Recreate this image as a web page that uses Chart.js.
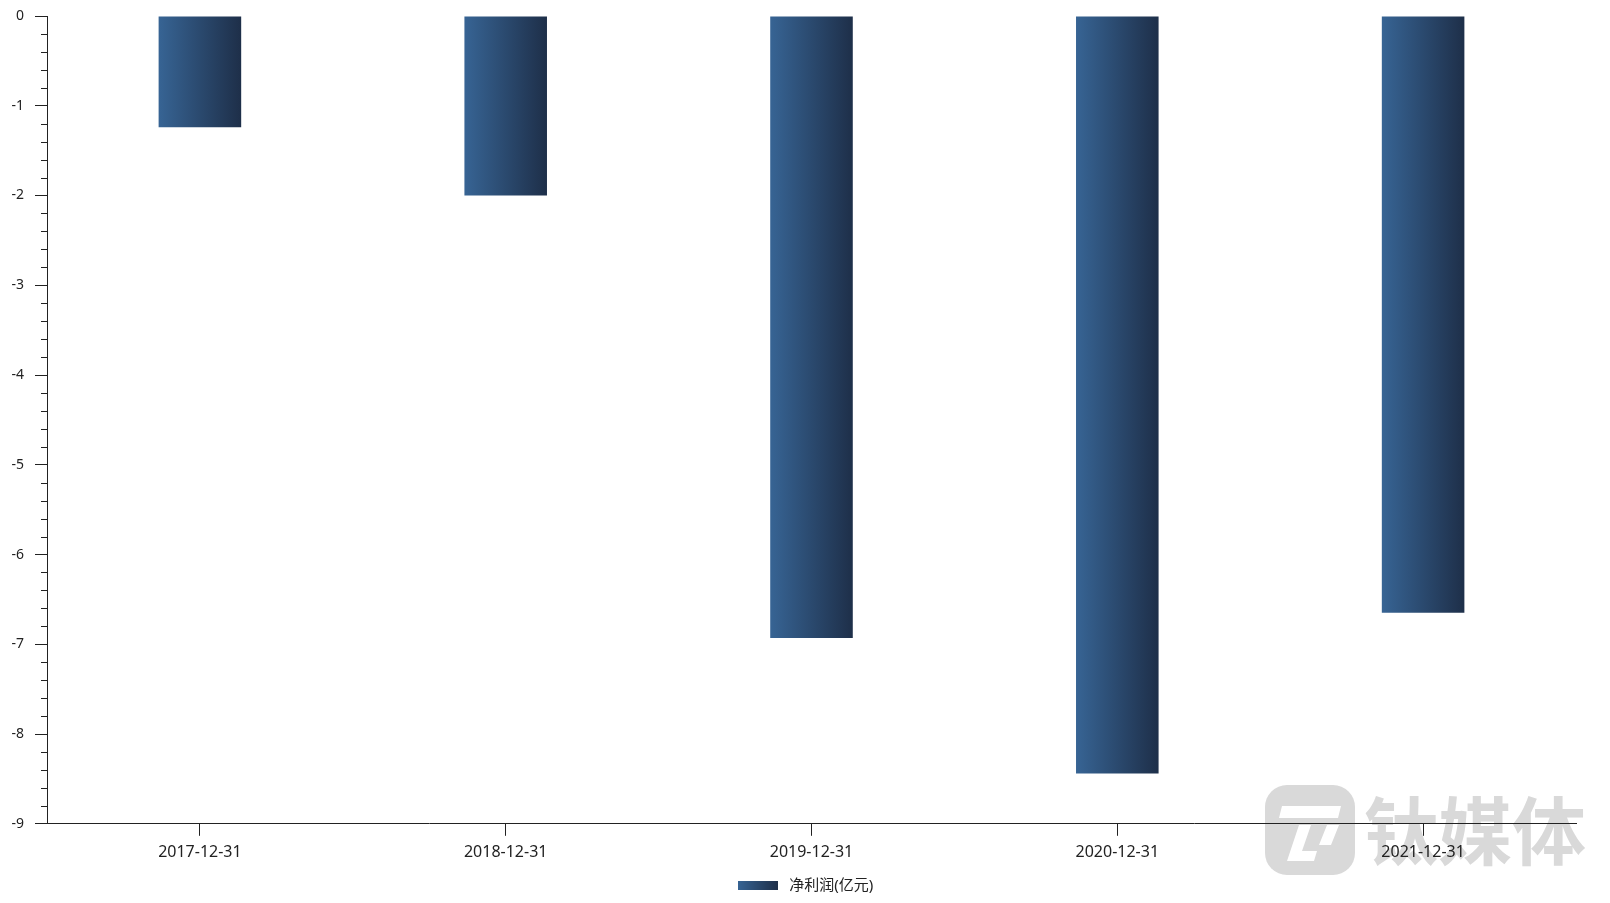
<!DOCTYPE html>
<html>
<head>
<meta charset="utf-8">
<script src="https://cdn.jsdelivr.net/npm/chart.js@4"></script>
<style>
  html,body{margin:0;padding:0;background:#fff;}
  #wrap{width:1610px;height:903px;}
</style>
</head>
<body>
<div id="wrap"><canvas id="ch"></canvas></div>
<script>
// data
var categories = ['2017-12-31', '2018-12-31', '2019-12-31', '2020-12-31', '2021-12-31'];
var netProfit = [-1.24, -2.0, -6.93, -8.44, -6.65];
var seriesLabel = '净利润(亿元)';
var yMin = -9, yMax = 0, yStep = 1, yMinorStep = 0.2;

var C_LEFT = '#376494', C_RIGHT = '#1e2f49';
var AXIS = '#222';
var FONT = '"Microsoft YaHei", "Noto Sans", "Noto Sans CJK SC", sans-serif';
var BAR_PCT = 0.27;

function barFill(c){
  var chart = c.chart, xs = chart.scales.x;
  if(!xs || !chart.chartArea) return C_LEFT;
  var cx = xs.getPixelForValue(c.dataIndex);
  var w = (chart.chartArea.width / categories.length) * BAR_PCT;
  var g = chart.ctx.createLinearGradient(cx - w/2, 0, cx + w/2, 0);
  g.addColorStop(0, C_LEFT); g.addColorStop(1, C_RIGHT);
  return g;
}

// legend swatch as an image
var swatch = document.createElement('canvas');
swatch.width = 40; swatch.height = 9;
(function(){
  var x = swatch.getContext('2d');
  var g = x.createLinearGradient(0,0,40,0);
  g.addColorStop(0, C_LEFT); g.addColorStop(1, C_RIGHT);
  x.fillStyle = g; x.fillRect(0,0,40,9);
})();

// minor ticks on the y axis
var minorTicks = {
  id:'minorTicks',
  afterDraw:function(chart){
    var y = chart.scales.y, ctx = chart.ctx, x0 = y.right;
    ctx.save(); ctx.strokeStyle = AXIS; ctx.lineWidth = 1;
    for(var v = yMax; v >= yMin - 1e-9; v -= yMinorStep){
      if(Math.abs(v - Math.round(v)) < 1e-6) continue;
      var py = Math.round(y.getPixelForValue(v)) + 0.5;
      ctx.beginPath(); ctx.moveTo(x0 - 6, py); ctx.lineTo(x0, py); ctx.stroke();
    }
    ctx.restore();
  }
};

// legend sits centred on the page, not on the padded box
var legendNudge = {
  id:'legendNudge',
  afterLayout:function(chart){
    if(chart.legend){ chart.legend.left += 10; chart.legend.right += 10; }
  }
};

// faint site watermark, behind everything
var watermark = {
  id:'watermark',
  beforeDraw:function(chart){
    var ctx = chart.ctx;
    ctx.save();
    ctx.fillStyle = '#d9d9d9';
    var x = 1265, y = 785, s = 90, r = 22;
    ctx.beginPath();
    ctx.roundRect(x, y, s, s, r);
    ctx.fill();
    ctx.fillStyle = '#fff';
    ctx.beginPath(); // top bar
    ctx.moveTo(x+17, y+21); ctx.lineTo(x+76, y+21); ctx.lineTo(x+73, y+33); ctx.lineTo(x+14, y+33); ctx.closePath(); ctx.fill();
    ctx.beginPath(); // stem
    ctx.moveTo(x+34, y+40); ctx.lineTo(x+46, y+40); ctx.lineTo(x+37, y+66); ctx.lineTo(x+52, y+66); ctx.lineTo(x+49, y+76); ctx.lineTo(x+22, y+76); ctx.closePath(); ctx.fill();
    ctx.beginPath(); // right hook
    ctx.moveTo(x+62, y+40); ctx.lineTo(x+74, y+40); ctx.lineTo(x+66, y+60); ctx.lineTo(x+54, y+60); ctx.closePath(); ctx.fill();
    ctx.fillStyle = '#d9d9d9';
    ctx.font = 'bold 74px "Noto Sans CJK SC", sans-serif';
    ctx.textBaseline = 'middle';
    ctx.fillText('钛媒体', 1364, 831);
    ctx.restore();
  }
};

new Chart(document.getElementById('ch'), {
  type:'bar',
  data:{ labels:categories, datasets:[{ label:seriesLabel, data:netProfit,
    backgroundColor:barFill, borderWidth:0,
    categoryPercentage:1, barPercentage:BAR_PCT }] },
  options:{
    responsive:true, maintainAspectRatio:false, animation:false,
    layout:{ padding:{ left:11, right:34, top:16, bottom:0 } },
    plugins:{
      tooltip:{ enabled:false },
      legend:{ position:'bottom',
        labels:{ color:'#222', font:{ family:FONT, size:15 }, usePointStyle:true, pointStyleWidth:48, padding:9,
          generateLabels:function(){ return [{ text:seriesLabel, pointStyle:swatch, fillStyle:C_LEFT, strokeStyle:'transparent', lineWidth:0, fontColor:'#222', datasetIndex:0 }]; } } }
    },
    scales:{
      x:{ offset:true,
        border:{ color:AXIS, width:1 },
        grid:{ display:true, drawOnChartArea:false, tickLength:12, color:AXIS, offset:false },
        ticks:{ color:'#222', font:{ family:FONT, size:16 }, padding:7, maxRotation:0 } },
      y:{ min:yMin, max:yMax,
        afterFit:function(s){ s.width = 36; s.paddingTop = 0; s.paddingBottom = 0; },
        border:{ color:AXIS, width:1 },
        grid:{ display:true, drawOnChartArea:false, tickLength:12, color:AXIS },
        ticks:{ stepSize:yStep, color:'#222', font:{ family:FONT, size:14 }, padding:11 } }
    }
  },
  plugins:[watermark, minorTicks, legendNudge]
});
</script>
</body>
</html>
